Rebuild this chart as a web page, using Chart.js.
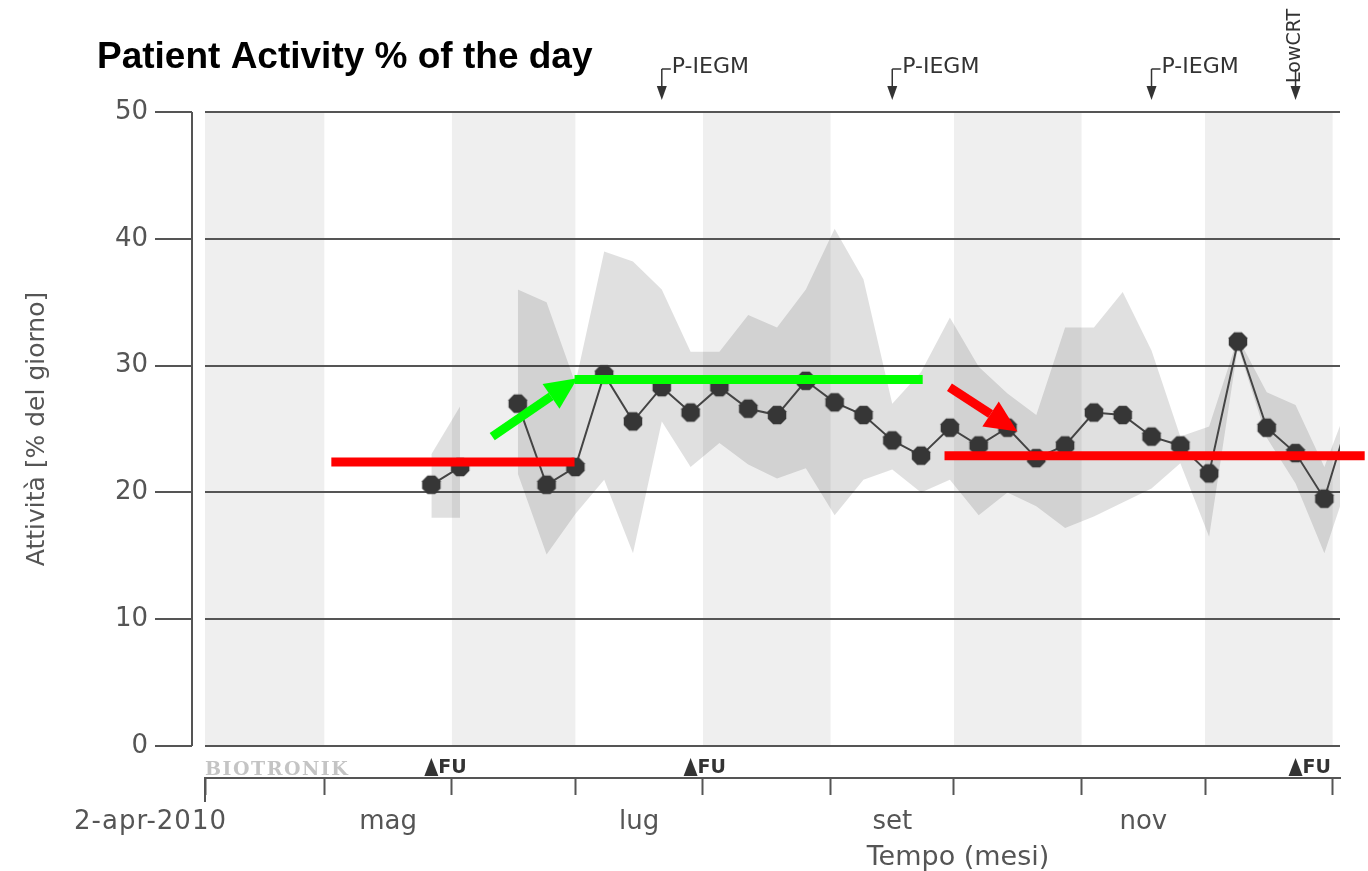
<!DOCTYPE html>
<html>
<head>
<meta charset="utf-8">
<script src="https://cdn.jsdelivr.net/npm/chart.js@4.4.1/dist/chart.umd.min.js"></script>
<style>
  html, body { margin: 0; padding: 0; background: #fff; }
  canvas { display: block; }
</style>
</head>
<body>
<canvas id="activityChart" width="1368" height="871"></canvas>
<script>
// x values are days counted from 2-apr-2010
const monthStarts = [0, 29, 60, 90, 121, 152, 182, 213, 243, 274];
const monthLabels = ["", "mag", "", "lug", "", "set", "", "nov", "", ""];
const startLabel = "2-apr-2010";
const yTicks = [0, 10, 20, 30, 40, 50];

const weekDays = [55, 62, 69, 76, 83, 90, 97, 104, 111, 118, 125, 132, 139, 146, 153, 160, 167,
  174, 181, 188, 195, 202, 209, 216, 223, 230, 237, 244, 251, 258, 265, 272, 279];
const activity = [20.6, 22.0, null, 27.0, 20.6, 22.0, 29.3, 25.6, 28.3, 26.3, 28.3, 26.6, 26.1,
  28.8, 27.1, 26.1, 24.1, 22.9, 25.1, 23.7, 25.1, 22.7, 23.7, 26.3, 26.1, 24.4, 23.7, 21.5,
  31.9, 25.1, 23.1, 19.5, 27.0];
const activityMax = [23.0, 26.8, null, 36.0, 35.0, 28.6, 39.0, 38.2, 36.0, 31.1, 31.1, 34.0, 33.0,
  36.0, 40.8, 36.8, 27.0, 29.5, 33.8, 29.9, 27.8, 26.1, 33.0, 33.0, 35.8, 31.2, 24.4, 25.2,
  32.2, 27.9, 26.9, 22.0, 28.0];
const activityMin = [18.0, 18.0, null, 21.5, 15.1, 18.3, 21.0, 15.2, 25.6, 22.0, 23.9, 22.2, 21.1,
  21.9, 18.2, 21.0, 21.8, 20.0, 21.0, 18.2, 20.0, 18.9, 17.2, 18.1, 19.2, 20.3, 22.3, 16.5,
  31.5, 24.3, 20.7, 15.2, 22.0];

// event markers (days)
const iegmDays = [111, 167, 230];
const lowCrtDays = [265];
const followUpDays = [55, 118, 265];

// hand drawn overlay of the slide: [day, value] pairs
const redBefore = [[30.7, 22.4], [89.8, 22.4]];
const greenPlateau = [[89.8, 28.9], [174.4, 28.9]];
const redAfter = [[179.7, 22.9], [281.8, 22.9]];
const greenArrow = [[69.8, 24.4], [90.5, 29.0]];
const redArrow = [[180.9, 28.3], [197.4, 24.8]];

const TEXT = "#555";
const FONT = "DejaVu Sans";

const xTicks = [];
monthStarts.forEach((d, i) => {
  xTicks.push({ value: d, label: "" });
  if (monthLabels[i]) xTicks.push({ value: (d + monthStarts[i + 1]) / 2, label: monthLabels[i] });
});

function octagon(r, color) {
  const c = document.createElement("canvas");
  const s = Math.ceil(r * 2) + 2;
  c.width = c.height = s;
  const g = c.getContext("2d");
  g.fillStyle = color;
  g.beginPath();
  for (let k = 0; k < 8; k++) {
    const a = Math.PI / 8 + k * Math.PI / 4;
    const px = s / 2 + r * Math.cos(a), py = s / 2 + r * Math.sin(a);
    if (k) g.lineTo(px, py); else g.moveTo(px, py);
  }
  g.closePath();
  g.fill();
  return c;
}

function drawArrow(ctx, x0, y0, x1, y1, color) {
  const ang = Math.atan2(y1 - y0, x1 - x0);
  const head = 32, hw = 15;
  const bx = x1 - head * Math.cos(ang), by = y1 - head * Math.sin(ang);
  ctx.strokeStyle = color;
  ctx.lineWidth = 9;
  ctx.beginPath();
  ctx.moveTo(x0, y0);
  ctx.lineTo(bx, by);
  ctx.stroke();
  ctx.fillStyle = color;
  ctx.beginPath();
  ctx.moveTo(x1, y1);
  ctx.lineTo(bx + hw * Math.sin(ang), by - hw * Math.cos(ang));
  ctx.lineTo(bx - hw * Math.sin(ang), by + hw * Math.cos(ang));
  ctx.closePath();
  ctx.fill();
}

const decor = {
  id: "decor",
  beforeDraw(chart) {
    const { ctx, chartArea: a, scales: { x, y } } = chart;
    ctx.save();
    ctx.fillStyle = "#efefef";
    for (let i = 0; i < monthStarts.length - 1; i += 2) {
      const x0 = x.getPixelForValue(monthStarts[i]);
      const x1 = Math.min(x.getPixelForValue(monthStarts[i + 1]), a.right);
      ctx.fillRect(x0, a.top, x1 - x0, y.getPixelForValue(0) - a.top);
    }
    ctx.restore();
  },
  afterDatasetsDraw(chart) {
    const { ctx, scales: { x, y } } = chart;
    ctx.save();
    [[greenArrow, "#00ff00"], [redArrow, "#ff0000"]].forEach(([p, col]) => {
      drawArrow(ctx, x.getPixelForValue(p[0][0]), y.getPixelForValue(p[0][1]),
        x.getPixelForValue(p[1][0]), y.getPixelForValue(p[1][1]), col);
    });
    ctx.restore();
  },
  afterDraw(chart) {
    const { ctx, chartArea: a, scales: { x, y } } = chart;
    ctx.save();

    // title
    ctx.fillStyle = "#000";
    ctx.font = 'bold 37px "Liberation Sans"';
    ctx.textBaseline = "alphabetic";
    ctx.fillText("Patient Activity % of the day", 97, 68);

    // y axis line with outside ticks
    ctx.strokeStyle = "#555";
    ctx.lineWidth = 2;
    const axX = a.left - 13;
    ctx.beginPath();
    ctx.moveTo(axX, y.getPixelForValue(50));
    ctx.lineTo(axX, y.getPixelForValue(0));
    yTicks.forEach(v => {
      const py = Math.round(y.getPixelForValue(v));
      ctx.moveTo(axX - 37, py);
      ctx.lineTo(axX, py);
    });
    // longer first tick of the time axis
    ctx.moveTo(x.getPixelForValue(0), a.bottom);
    ctx.lineTo(x.getPixelForValue(0), a.bottom + 24);
    ctx.stroke();

    // axis titles
    ctx.fillStyle = TEXT;
    ctx.font = `25px "${FONT}"`;
    ctx.textAlign = "center";
    ctx.textBaseline = "middle";
    ctx.save();
    ctx.translate(37, y.getPixelForValue(25));
    ctx.rotate(-Math.PI / 2);
    ctx.fillText("Attività [% del giorno]", 0, 0);
    ctx.restore();
    ctx.font = `27px "${FONT}"`;
    ctx.fillText("Tempo (mesi)", 958, 858);
    ctx.font = `26px "${FONT}"`;
    ctx.textAlign = "right";
    ctx.letterSpacing = "1px";
    ctx.fillText(startLabel, x.getPixelForValue(0) + 22, 822);
    ctx.letterSpacing = "0px";

    // device brand
    ctx.fillStyle = "#c4c4c4";
    ctx.font = `bold 19px "DejaVu Serif"`;
    ctx.textAlign = "left";
    ctx.letterSpacing = "1.5px";
    ctx.fillText("BIOTRONIK", a.left, 770);
    ctx.letterSpacing = "0px";

    // follow-up markers
    ctx.fillStyle = "#333";
    ctx.font = `bold 19px "${FONT}"`;
    followUpDays.forEach(d => {
      const px = x.getPixelForValue(d);
      ctx.beginPath();
      ctx.moveTo(px - 7, 776);
      ctx.lineTo(px + 7, 776);
      ctx.lineTo(px, 758);
      ctx.closePath();
      ctx.fill();
      ctx.fillText("FU", px + 7, 768);
    });

    // event arrows above the plot
    const evArrow = (px) => {
      ctx.beginPath();
      ctx.moveTo(px, 69);
      ctx.lineTo(px, 88);
      ctx.stroke();
      ctx.beginPath();
      ctx.moveTo(px - 5, 86);
      ctx.lineTo(px + 5, 86);
      ctx.lineTo(px, 100);
      ctx.closePath();
      ctx.fill();
    };
    ctx.strokeStyle = "#333";
    ctx.lineWidth = 1.5;
    ctx.font = `22px "${FONT}"`;
    iegmDays.forEach(d => {
      const px = x.getPixelForValue(d);
      evArrow(px);
      ctx.beginPath();
      ctx.moveTo(px, 69);
      ctx.lineTo(px + 9, 69);
      ctx.stroke();
      ctx.fillText("P-IEGM", px + 10, 67);
    });
    ctx.font = `19px "${FONT}"`;
    lowCrtDays.forEach(d => {
      const px = x.getPixelForValue(d);
      evArrow(px);
      ctx.save();
      ctx.translate(px, 83);
      ctx.rotate(-Math.PI / 2);
      ctx.textAlign = "left";
      ctx.fillText("LowCRT", 0, 0);
      ctx.restore();
    });
    ctx.restore();
  }
};

const pts = (vals) => vals.map((v, i) => ({ x: weekDays[i], y: v }));
const seg = (p) => p.map(([d, v]) => ({ x: d, y: v }));

const overlay = (p, color) => ({
  data: seg(p), borderColor: color, borderWidth: 9, borderCapStyle: "butt",
  pointRadius: 0, fill: false, clip: false, order: 0
});

new Chart(document.getElementById("activityChart"), {
  type: "line",
  data: {
    datasets: [
      { data: pts(activityMax), borderWidth: 0, pointRadius: 0, fill: "+1",
        backgroundColor: "rgba(0,0,0,0.12)", order: 3 },
      { data: pts(activityMin), borderWidth: 0, pointRadius: 0, fill: false, order: 3 },
      { data: pts(activity), borderColor: "#444", borderWidth: 2, fill: false,
        pointStyle: octagon(10, "#363636"), order: 1 },
      overlay(redBefore, "#ff0000"),
      overlay(greenPlateau, "#00ff00"),
      overlay(redAfter, "#ff0000")
    ]
  },
  options: {
    responsive: false,
    devicePixelRatio: 1,
    animation: false,
    layout: { padding: { top: 112, right: 28, bottom: 0, left: 0 } },
    plugins: { legend: { display: false }, tooltip: { enabled: false } },
    scales: {
      x: {
        type: "linear",
        min: 0,
        max: 275.8,
        afterBuildTicks: s => { s.ticks = xTicks.map(t => ({ value: t.value })); },
        afterFit: s => { s.height = 93; },
        grid: {
          drawOnChartArea: false,
          tickLength: 17,
          tickWidth: 2,
          tickColor: c => (xTicks[c.index] && xTicks[c.index].label) ? "rgba(0,0,0,0)" : "#555"
        },
        border: { display: true, color: "#555", width: 2 },
        ticks: {
          autoSkip: false,
          maxRotation: 0,
          padding: 12,
          color: TEXT,
          font: { family: FONT, size: 26 },
          callback: (v, i) => xTicks[i].label
        }
      },
      y: {
        min: -2.524,
        max: 50,
        afterBuildTicks: s => { s.ticks = yTicks.map(v => ({ value: v })); },
        afterFit: s => { s.width = 205; },
        grid: { color: "#555", lineWidth: 2, drawTicks: false },
        border: { display: false },
        ticks: { padding: 57, color: TEXT, font: { family: FONT, size: 26 } }
      }
    }
  },
  plugins: [decor]
});
</script>
</body>
</html>
